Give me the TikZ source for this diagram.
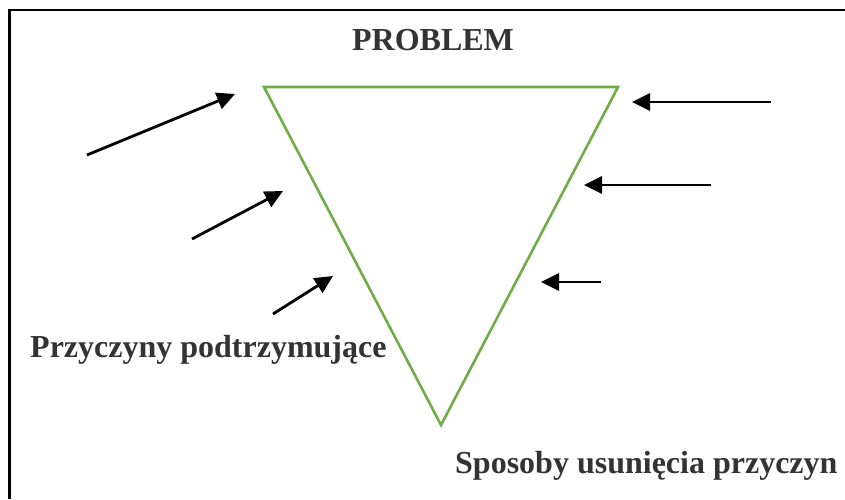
\documentclass[tikz,border=0pt]{standalone}
\usepackage{fontspec}
\setmainfont{Liberation Serif}
\usetikzlibrary{arrows.meta}
\definecolor{tgray}{RGB}{51,51,51}
\definecolor{tgreen}{RGB}{112,173,71}
\tikzset{
  lbl/.style={font=\fontsize{32}{36}\selectfont\bfseries, text=tgray, inner sep=0pt, anchor=base west},
  arr/.style={line width=2.8pt, -{Triangle[length=18pt,width=17pt]}},
  tri/.style={draw=tgreen, line width=2.6pt, line join=miter},
  frame/.style={line width=2.8pt, draw=black}
}
\begin{document}
\begin{tikzpicture}[x=1pt,y=-1pt]
\useasboundingbox (0,0) rectangle (845,499);
\fill[white] (0,0) rectangle (845,499);
% frame (extends beyond right and bottom)
\coordinate (fb) at (9.5,499);
\coordinate (fc) at (9.5,10);
\coordinate (fr) at (845,10);
\draw[frame] (fb) -- (fc) -- (fr);
% triangle
\coordinate (tl) at (264,87);
\coordinate (tr) at (618,87);
\coordinate (tb) at (441,425);
\draw[tri] (tl) -- (tr) -- (tb) -- cycle;
% texts
\node[lbl, anchor=base] (problem) at (433,50) {PROBLEM};
\node[lbl] (przyczyny) at (30,357) {Przyczyny podtrzymujące};
\node[lbl] (sposoby) at (455,473) {Sposoby usunięcia przyczyn};
% left arrows
\coordinate (l1s) at (87,155); \coordinate (l1e) at (235,94);
\coordinate (l2s) at (192,239); \coordinate (l2e) at (283,191);
\coordinate (l3s) at (273,314); \coordinate (l3e) at (333,276);
\draw[arr] (l1s) -- (l1e);
\draw[arr] (l2s) -- (l2e);
\draw[arr] (l3s) -- (l3e);
% right arrows
\coordinate (r1s) at (771,102); \coordinate (r1e) at (632,102);
\coordinate (r2s) at (711,185); \coordinate (r2e) at (584,185);
\coordinate (r3s) at (601,282); \coordinate (r3e) at (541,282);
\draw[arr] (r1s) -- (r1e);
\draw[arr] (r2s) -- (r2e);
\draw[arr] (r3s) -- (r3e);
\end{tikzpicture}
\end{document}
